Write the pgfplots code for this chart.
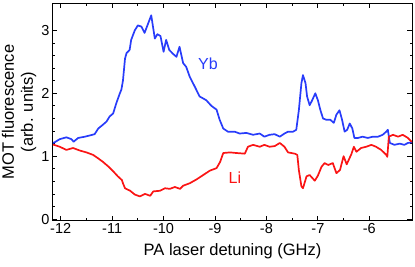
\documentclass[border=0pt]{standalone}
\usepackage{fontspec}
\setmainfont{Liberation Sans}
\usepackage{pgfplots}
\pgfplotsset{compat=1.18}
\definecolor{ybblue}{RGB}{40,60,250}
\definecolor{lired}{RGB}{250,20,20}
\begin{document}
\begin{tikzpicture}
\begin{axis}[
 scale only axis, width=359bp, height=216bp,
 xmin=-12.15, xmax=-5.17, ymin=-0.015, ymax=3.42,
 xtick={-12,-11,-10,-9,-8,-7,-6}, ytick={0,1,2,3},
 minor x tick num=1, minor y tick num=4,
 tick align=inside, major tick length=4.5bp, minor tick length=2.5bp,
 axis line style={line width=1bp},
 every tick/.style={black, line width=0.8bp},
 tick label style={font=\fontsize{14.5bp}{17bp}\selectfont},
 /pgf/number format/assume math mode=true,
 xlabel={PA laser detuning (GHz)},
 ylabel={MOT fluorescence\\(arb. units)},
 label style={font=\fontsize{16.5bp}{19bp}\selectfont},
 ylabel style={align=center, at={(axis description cs:-0.0947,0.5)}, anchor=center},
 xlabel style={at={(axis description cs:0.5,0)}, anchor=center, yshift=-31.5bp},
 every axis plot/.append style={line width=1.7bp, line join=round, line cap=round},
]
\addplot[ybblue] coordinates {
(-12.15,1.21) (-12.12,1.22) (-12.02,1.27) (-11.89,1.30) (-11.79,1.27) (-11.75,1.23)
(-11.66,1.29) (-11.53,1.31) (-11.43,1.33) (-11.34,1.35) (-11.27,1.44) (-11.18,1.50)
(-11.11,1.55) (-11.05,1.63) (-10.98,1.68) (-10.92,1.84) (-10.85,2.00) (-10.82,2.06)
(-10.79,2.20) (-10.75,2.55) (-10.72,2.64) (-10.66,2.69) (-10.63,2.85) (-10.56,3.00)
(-10.50,3.08) (-10.43,3.06) (-10.37,2.96) (-10.30,3.11) (-10.24,3.24) (-10.17,2.87)
(-10.12,2.94) (-10.06,2.91) (-10.00,2.66) (-9.95,2.85) (-9.89,2.69) (-9.82,2.63)
(-9.75,2.58) (-9.69,2.74) (-9.62,2.48) (-9.56,2.42) (-9.49,2.26) (-9.39,2.10)
(-9.30,1.95) (-9.17,1.89) (-9.07,1.80) (-8.97,1.74) (-8.91,1.58) (-8.84,1.44)
(-8.75,1.39) (-8.62,1.39) (-8.52,1.36) (-8.39,1.37) (-8.26,1.34) (-8.13,1.36)
(-8.04,1.31) (-7.94,1.34) (-7.84,1.35) (-7.74,1.31) (-7.65,1.36) (-7.58,1.39)
(-7.48,1.39) (-7.42,1.42) (-7.37,1.73) (-7.32,2.16) (-7.29,2.29) (-7.24,2.16)
(-7.21,1.95) (-7.16,1.81) (-7.11,1.89) (-7.05,2.00) (-7.00,1.89) (-6.95,1.73)
(-6.90,1.60) (-6.84,1.58) (-6.76,1.58) (-6.69,1.53) (-6.64,1.66) (-6.58,1.73)
(-6.53,1.58) (-6.48,1.39) (-6.43,1.42) (-6.38,1.52) (-6.33,1.44) (-6.29,1.29)
(-6.22,1.29) (-6.13,1.31) (-6.03,1.29) (-5.93,1.31) (-5.83,1.31) (-5.74,1.34)
(-5.67,1.39) (-5.64,1.42) (-5.60,1.21) (-5.51,1.18) (-5.41,1.20) (-5.32,1.18)
(-5.25,1.21) (-5.17,1.22)
};
\addplot[lired] coordinates {
(-12.15,1.18) (-12.13,1.18) (-12.02,1.15) (-11.89,1.10) (-11.76,1.13) (-11.63,1.09)
(-11.50,1.06) (-11.37,1.02) (-11.28,0.97) (-11.18,0.91) (-11.08,0.84) (-10.98,0.76)
(-10.89,0.68) (-10.81,0.62) (-10.79,0.57) (-10.75,0.49) (-10.65,0.45) (-10.56,0.39)
(-10.46,0.36) (-10.36,0.40) (-10.26,0.37) (-10.20,0.44) (-10.07,0.45) (-9.97,0.49)
(-9.88,0.48) (-9.78,0.51) (-9.68,0.48) (-9.62,0.53) (-9.49,0.57) (-9.36,0.63)
(-9.23,0.70) (-9.10,0.77) (-8.97,0.81) (-8.90,0.91) (-8.84,1.05) (-8.71,1.06)
(-8.58,1.05) (-8.42,1.04) (-8.36,1.15) (-8.26,1.18) (-8.13,1.15) (-8.04,1.18)
(-7.94,1.15) (-7.84,1.16) (-7.74,1.21) (-7.65,1.15) (-7.58,1.06) (-7.45,1.04)
(-7.40,1.02) (-7.37,0.78) (-7.32,0.52) (-7.29,0.49) (-7.22,0.68) (-7.16,0.70)
(-7.06,0.61) (-7.00,0.69) (-6.93,0.83) (-6.87,0.89) (-6.80,0.86) (-6.71,0.89)
(-6.64,0.73) (-6.57,0.78) (-6.50,1.00) (-6.44,0.87) (-6.35,1.03) (-6.30,1.15)
(-6.25,1.07) (-6.16,1.13) (-6.06,1.15) (-5.96,1.18) (-5.87,1.15) (-5.77,1.10)
(-5.67,1.02) (-5.65,0.99) (-5.62,1.31) (-5.54,1.34) (-5.44,1.31) (-5.35,1.34)
(-5.25,1.29) (-5.19,1.24) (-5.17,1.23)
};
\node[ybblue, font=\fontsize{16bp}{19bp}\selectfont] at (axis cs:-9.137,2.465) {Yb};
\node[lired, font=\fontsize{16bp}{19bp}\selectfont] at (axis cs:-8.612,0.663) {Li};
\end{axis}
\pgfresetboundingbox
\path ([xshift=-53bp,yshift=-47bp]current axis.south west) rectangle ([xshift=3bp,yshift=4bp]current axis.north east);
\end{tikzpicture}
\end{document}
